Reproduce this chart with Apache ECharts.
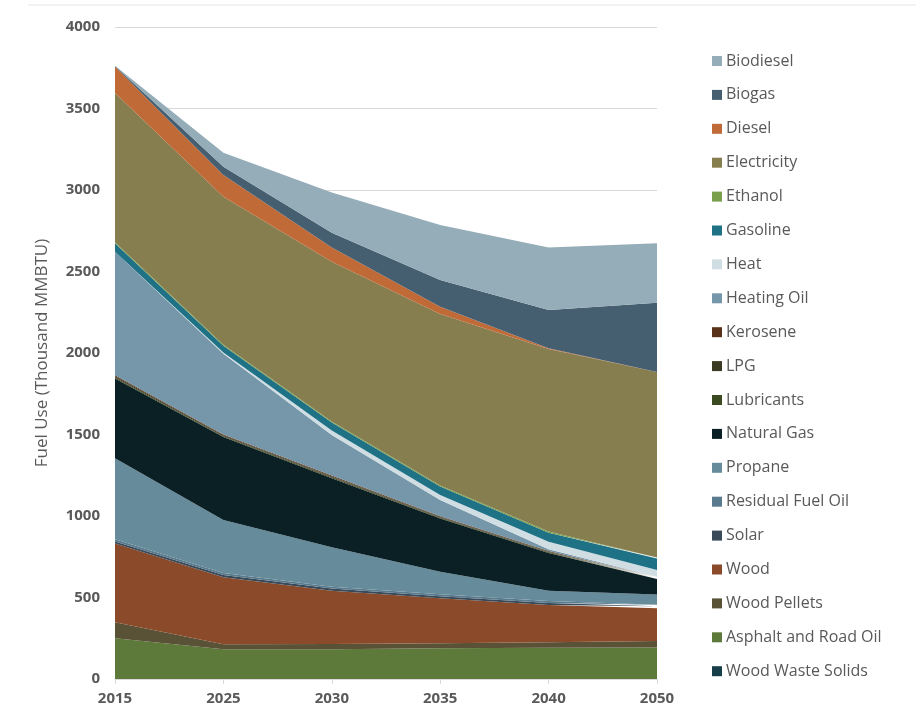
<!DOCTYPE html>
<html>
<head>
<meta charset="utf-8">
<script src="https://cdn.jsdelivr.net/npm/echarts@6/dist/echarts.min.js"></script>
<style>
html,body{margin:0;padding:0;background:#fff;}
#chart{width:916px;height:723px;}
</style>
</head>
<body>
<div id="chart"></div>
<script>
var years = ['2015','2025','2030','2035','2040','2050'];
var yTicks = [0, 500, 1000, 1500, 2000, 2500, 3000, 3500, 4000];

// series values (Thousand MMBTU), stacked bottom to top
var woodWasteSolids = [0, 0, 0, 0, 0, 0];
var asphaltRoadOil  = [250, 182, 182, 188, 192, 194];
var woodPellets     = [98, 31, 33, 31, 33, 39];
var wood            = [484, 411, 327, 276, 229, 201];
var solar           = [12, 14, 13, 13, 12, 12];
var residualFuelOil = [13, 12, 11, 12, 12, 10];
var propane         = [497, 325, 242, 138, 64, 62];
var naturalGas      = [490, 510, 424, 327, 231, 95];
var lubricants      = [6, 5, 5, 4, 4, 4];
var lpg             = [8, 6, 6, 5, 4, 4];
var kerosene        = [6, 4, 5, 4, 4, 4];
var heatingOil      = [757, 495, 249, 100, 11, 3];
var heat            = [0, 8, 28, 31, 46, 40];
var gasoline        = [52, 42, 48, 52, 56, 72];
var ethanol         = [7, 6, 6, 6, 7, 6];
var electricity     = [915, 908, 981, 1052, 1119, 1137];
var diesel          = [162, 133, 88, 45, 5, 0];
var biogas          = [3, 51, 90, 164, 235, 426];
var biodiesel       = [3, 86, 247, 337, 384, 364];

var legendOrder = ['Biodiesel','Biogas','Diesel','Electricity','Ethanol','Gasoline','Heat','Heating Oil','Kerosene','LPG','Lubricants','Natural Gas','Propane','Residual Fuel Oil','Solar','Wood','Wood Pellets','Asphalt and Road Oil','Wood Waste Solids'];

var stackList = [
  ['Wood Waste Solids', woodWasteSolids, '#173f4a'],
  ['Asphalt and Road Oil', asphaltRoadOil, '#5e7a3a'],
  ['Wood Pellets', woodPellets, '#5a5237'],
  ['Wood', wood, '#8b4b2a'],
  ['Solar', solar, '#3a4a58'],
  ['Residual Fuel Oil', residualFuelOil, '#5a7b8e'],
  ['Propane', propane, '#668b9b'],
  ['Natural Gas', naturalGas, '#0b2025'],
  ['Lubricants', lubricants, '#3c4a22'],
  ['LPG', lpg, '#3b3a22'],
  ['Kerosene', kerosene, '#5a3219'],
  ['Heating Oil', heatingOil, '#7597a9'],
  ['Heat', heat, '#d0dde3'],
  ['Gasoline', gasoline, '#1f7285'],
  ['Ethanol', ethanol, '#7aa04c'],
  ['Electricity', electricity, '#877e50'],
  ['Diesel', diesel, '#c06a38'],
  ['Biogas', biogas, '#465f70'],
  ['Biodiesel', biodiesel, '#94adb8']
];

var FONT = 'Open Sans';
var chart = echarts.init(document.getElementById('chart'), null, {renderer:'canvas'});

var series = stackList.map(function(s){
  return {
    name: s[0], type: 'line', stack: 'total', data: s[1],
    showSymbol: false, symbol: 'none',
    lineStyle: {width: 0, color: s[2]},
    itemStyle: {color: s[2]},
    areaStyle: {color: s[2], opacity: 1},
    emphasis: {disabled: true},
    animation: false
  };
});

chart.setOption({
  animation: false,
  backgroundColor: '#ffffff',
  grid: {left: 115, right: 259, top: 27, bottom: 44, containLabel: false},
  legend: {
    data: legendOrder,
    orient: 'vertical',
    left: 707, top: 48,
    itemWidth: 10, itemHeight: 10, itemGap: 17.9,
    icon: 'rect',
    textStyle: {fontFamily: FONT, fontSize: 16, color: '#595959', lineHeight: 16, padding: [0,0,0,-1]},
    selectedMode: false
  },
  xAxis: {
    type: 'category', data: years, boundaryGap: false,
    axisLine: {lineStyle: {color: '#d9d9d9', width: 1}},
    axisTick: {show: true, lineStyle: {color: '#d9d9d9'}, length: 5},
    axisLabel: {fontFamily: FONT, fontWeight: 'bold', fontSize: 15, color: '#595959', margin: 12}
  },
  yAxis: {
    type: 'value', min: yTicks[0], max: yTicks[yTicks.length-1], interval: 500,
    name: 'Fuel Use (Thousand MMBTU)', nameLocation: 'middle', nameGap: 64,
    nameTextStyle: {fontFamily: 'Liberation Sans Narrow, ' + FONT, fontSize: 17, color: '#595959'},
    axisLine: {show: false}, axisTick: {show: false},
    splitLine: {lineStyle: {color: '#d9d9d9', width: 1}},
    axisLabel: {fontFamily: FONT, fontWeight: 'bold', fontSize: 15, color: '#595959', margin: 15,
      formatter: function(v){ return String(v); }}
  },
  graphic: [{
    type: 'line', shape: {x1: 28, y1: 5, x2: 916, y2: 5},
    style: {stroke: '#e6e6e6', lineWidth: 1}, silent: true
  }],
  series: series
});
</script>
</body>
</html>
